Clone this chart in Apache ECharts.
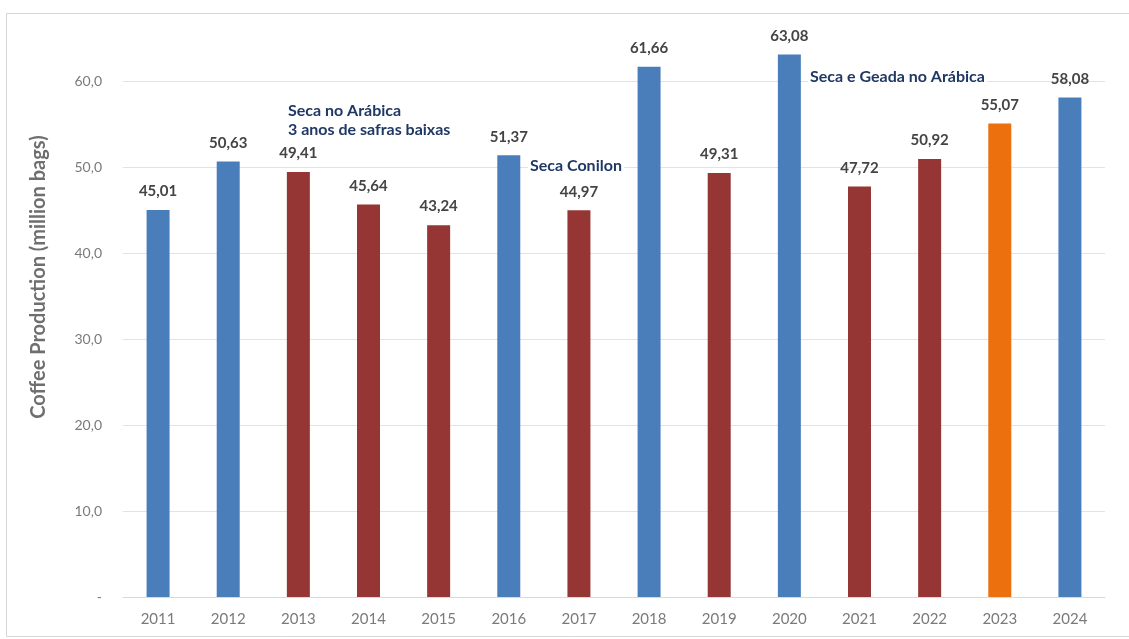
<!DOCTYPE html>
<html><head><meta charset="utf-8">
<script src="https://cdn.jsdelivr.net/npm/echarts@6/dist/echarts.min.js"></script>
<style>html,body{margin:0;padding:0;background:#fff;}#c{width:1129px;height:639px;}</style>
</head><body><div id="c"></div>
<script>
const years = ['2011','2012','2013','2014','2015','2016','2017','2018','2019','2020','2021','2022','2023','2024'];
const production = [45.01,50.63,49.41,45.64,43.24,51.37,44.97,61.66,49.31,63.08,47.72,50.92,55.07,58.08];
const cropType = ['high','high','low','low','low','high','low','high','low','high','low','low','estimate','high'];
const yTicks = [0,10,20,30,40,50,60];
const yTitle = 'Coffee Production (million bags)';
const notes = [
  {text:'Seca no Arábica', x:286, y:113},
  {text:'3 anos de safras baixas', x:286, y:132},
  {text:'Seca Conilon', x:528, y:168},
  {text:'Seca e Geada no Arábica', x:808, y:79}
];
const palette = {high:'#4a7ebb', low:'#963634', estimate:'#ec700e'};
const fmt = v => v.toFixed(2).replace('.', ',');
const chart = echarts.init(document.getElementById('c'));
chart.setOption({
  animation:false,
  textStyle:{fontFamily:'Lato, "Open Sans", sans-serif'},
  grid:{left:123, right:24, top:0, bottom:42, containLabel:false},
  xAxis:{type:'category', data:years,
    axisLine:{lineStyle:{color:'#d9d9d9'}}, axisTick:{show:false},
    axisLabel:{color:'#7a7a7a', fontSize:15, margin:15}},
  yAxis:{type:'value', min:0, max:69.42, interval:10,
    axisLine:{show:false}, axisTick:{show:false},
    splitLine:{lineStyle:{color:['#e3e3e3','#e3e3e3','#e3e3e3','#e3e3e3','#e3e3e3','#e3e3e3','#e3e3e3','rgba(0,0,0,0)']}},
    axisLabel:{color:'#7a7a7a', fontSize:14, margin:21,
      formatter: v => yTicks.indexOf(v) < 0 ? '' : (v === 0 ? '-' : v.toFixed(1).replace('.', ','))}},
  series:[{type:'bar', barWidth:23,
    data: production.map((v,i)=>({value:v, itemStyle:{color:palette[cropType[i]]}})),
    label:{show:true, position:'top', distance:11, color:'#444', fontSize:15, fontWeight:'bold',
      formatter:p=>fmt(p.value)}}],
  graphic:[
    {type:'rect', shape:{x:6.5, y:13.5, width:1140, height:623}, style:{fill:null, stroke:'#d6d6d6', lineWidth:1}, silent:true},
    {type:'text', x:39, y:277, rotation:Math.PI/2, style:{text:yTitle, fill:'#6f6f6f', font:'bold 20px Lato, sans-serif', align:'center', verticalAlign:'middle'}},
    ...notes.map(n=>({type:'text', left:n.x, top:n.y-10, z:10, style:{text:n.text, fill:'#1f3864', font:'bold 16px Lato, sans-serif', backgroundColor:'#fff', padding:[0,2]}}))
  ]
});
</script></body></html>
